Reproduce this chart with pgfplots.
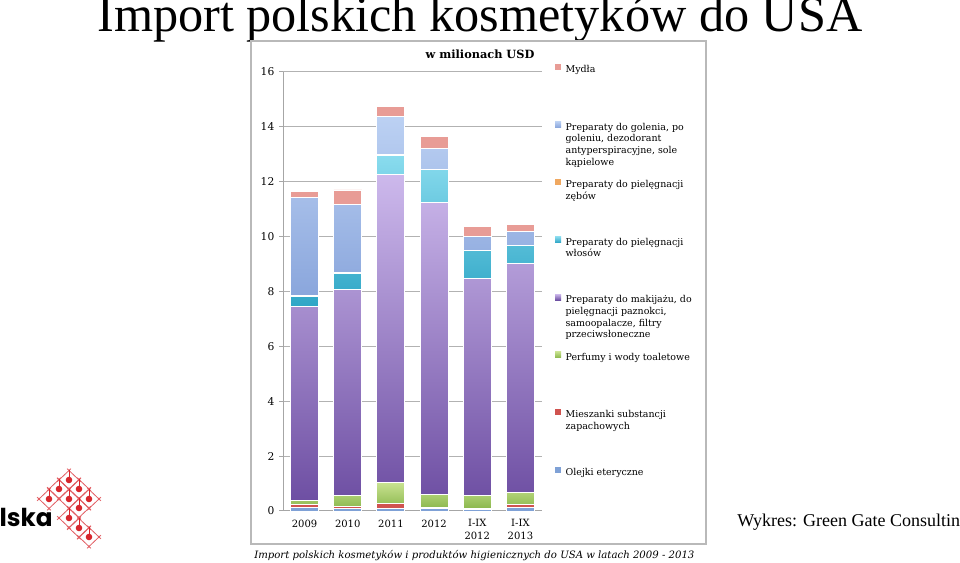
\documentclass[border=0pt]{standalone}
\usepackage{fontspec}
\setmainfont{Liberation Serif}
\newfontfamily\chartfont{DejaVu Serif}
\newfontfamily\logofont{Poppins}
\usepackage{pgfplots}
\usepackage{pgfplotstable}
\pgfplotsset{compat=1.18}

\definecolor{mydla}{HTML}{E89C96}
\definecolor{goleniaT}{HTML}{BCD1F3}
\definecolor{goleniaB}{HTML}{8AA6DC}
\definecolor{zeby}{HTML}{F0A860}
\definecolor{wlosyT}{HTML}{8ADCEE}
\definecolor{wlosyB}{HTML}{2FA6C6}
\definecolor{makijazT}{HTML}{CDB9EC}
\definecolor{makijazB}{HTML}{6E4FA3}
\definecolor{perfumyT}{HTML}{C8E290}
\definecolor{perfumyB}{HTML}{8CB84E}
\definecolor{mieszanki}{HTML}{D0534F}
\definecolor{olejki}{HTML}{7FA1D6}
\definecolor{logored}{HTML}{D7262C}

% wartosci w mln USD, od dolu slupka
\pgfplotstableread{
x olejki mieszanki perfumy makijaz wlosy zeby golenie mydla
0 0.12 0.10 0.18 7.05 0.36 0.03 3.58 0.24
1 0.08 0.08 0.40 7.52 0.58 0.03 2.49 0.52
2 0.10 0.16 0.77 11.25 0.69 0.03 1.39 0.37
3 0.08 0.05 0.48 10.63 1.19 0.03 0.76 0.42
4 0.06 0.04 0.45 7.93 1.01 0.02 0.51 0.34
5 0.12 0.10 0.45 8.36 0.64 0.02 0.49 0.27
}\importdata

% kazdy wpis legendy ma wysokosc jednej linii, reszta wisi w dol
\newcommand{\lentry}[1]{\strut\smash{\parbox[t]{120pt}{\raggedright #1}}}

\begin{document}
\begin{tikzpicture}[x=0.75pt,y=0.75pt]
\useasboundingbox (0,0) rectangle (960,563);
\clip (0,0) rectangle (960,563);

% tytul slajdu
\node[anchor=base west, inner sep=0pt, font=\fontsize{37.7}{40}\selectfont]
  at (97,531) {Import polskich kosmetyków do USA};

% ramka wykresu
\draw[gray!55, line width=1.2pt] (251,522) rectangle (706,19);

\begin{axis}[
  at={(212.25pt,39pt)}, anchor=south west,
  scale only axis, width=194.25pt, height=329.25pt,
  ybar stacked, bar width=21pt,
  xmin=-0.5, xmax=5.5, ymin=0, ymax=16,
  xtick=data,
  xticklabels={2009,2010,2011,2012,{I-IX\\2012},{I-IX\\2013}},
  xticklabel style={align=center, font=\chartfont\fontsize{7.5}{9.5}\selectfont},
  x tick style={draw=none},
  ytick={0,2,...,16},
  yticklabel style={font=\chartfont\fontsize{8}{9}\selectfont},
  /pgf/number format/assume math mode=true,
  axis x line*=bottom, axis y line*=left,
  axis line style={draw=gray!70, line width=0.75pt},
  ymajorgrids, grid style={gray!60, line width=0.75pt},
  y tick style={gray!70, line width=0.75pt},
  tick align=outside, major tick length=3pt,
  every axis plot/.append style={draw=white, line width=0.7pt},
  reverse legend,
  legend cell align=left,
  legend style={draw=none, fill=none, at={(1.05,1.0205)}, anchor=north west,
    row sep=33.9pt, column sep=2.5pt, inner sep=0pt,
    nodes={inner sep=0.8pt},
    font=\chartfont\fontsize{7.1}{8.8}\selectfont},
  legend image code/.code={\fill[#1, draw=none] (0pt,-0.3pt) rectangle (4.5pt,4.2pt);},
]
\addplot[fill=olejki] table[x=x, y=olejki] {\importdata};
\addlegendentry{\lentry{Olejki eteryczne}}
\addplot[fill=mieszanki] table[x=x, y=mieszanki] {\importdata};
\addlegendentry{\lentry{Mieszanki substancji\\zapachowych}}
\addplot[top color=perfumyT, bottom color=perfumyB] table[x=x, y=perfumy] {\importdata};
\addlegendentry{\lentry{Perfumy i wody toaletowe}}
\addplot[top color=makijazT, bottom color=makijazB] table[x=x, y=makijaz] {\importdata};
\addlegendentry{\lentry{Preparaty do makijażu, do\\pielęgnacji paznokci,\\samoopalacze, filtry\\przeciwsłoneczne}}
\addplot[top color=wlosyT, bottom color=wlosyB] table[x=x, y=wlosy] {\importdata};
\addlegendentry{\lentry{Preparaty do pielęgnacji\\włosów}}
\addplot[fill=zeby] table[x=x, y=zeby] {\importdata};
\addlegendentry{\lentry{Preparaty do pielęgnacji\\zębów}}
\addplot[top color=goleniaT, bottom color=goleniaB] table[x=x, y=golenie] {\importdata};
\addlegendentry{\lentry{Preparaty do golenia, po\\goleniu, dezodorant\\antyperspiracyjne, sole\\kąpielowe}}
\addplot[fill=mydla] table[x=x, y=mydla] {\importdata};
\addlegendentry{\lentry{Mydła}}
\end{axis}

\node[font=\chartfont\bfseries\fontsize{8.5}{10}\selectfont] at (480,509) {w milionach USD};
\node[anchor=base west, inner sep=0pt, font=\chartfont\itshape\fontsize{7.6}{9}\selectfont]
  at (254,4.5) {Import polskich kosmetyków i produktów higienicznych do USA w latach 2009 - 2013};

\node[anchor=base west, inner sep=0pt, font=\fontsize{13.5}{16}\selectfont]
  at (737,36) {Wykres: Green Gate Consulting};

% logo
\node[anchor=base east, inner sep=0pt, font=\logofont\bfseries\fontsize{18.5}{20}\selectfont]
  at (53,36) {Polska};
\foreach \a/\b in {69/480, 59/489, 79/489, 49/499, 69/499, 89/499, 79/508, 69/518, 79/528, 89/537} {
  \begin{scope}[shift={(\a,{563-\b})}]
    \draw[logored!75, line width=0.6pt, shorten <=-2pt, shorten >=-2pt] (0,9.5) -- (10,0);
    \draw[logored!75, line width=0.6pt, shorten <=-2pt, shorten >=-2pt] (10,0) -- (0,-9.5);
    \draw[logored!75, line width=0.6pt, shorten <=-2pt, shorten >=-2pt] (0,-9.5) -- (-10,0);
    \draw[logored!75, line width=0.6pt, shorten <=-2pt, shorten >=-2pt] (-10,0) -- (0,9.5);
    \draw[logored, line width=0.7pt] (0,0) -- (0,9.5);
    \fill[logored] (0,0) circle (3.3);
  \end{scope}
}
\end{tikzpicture}
\end{document}
